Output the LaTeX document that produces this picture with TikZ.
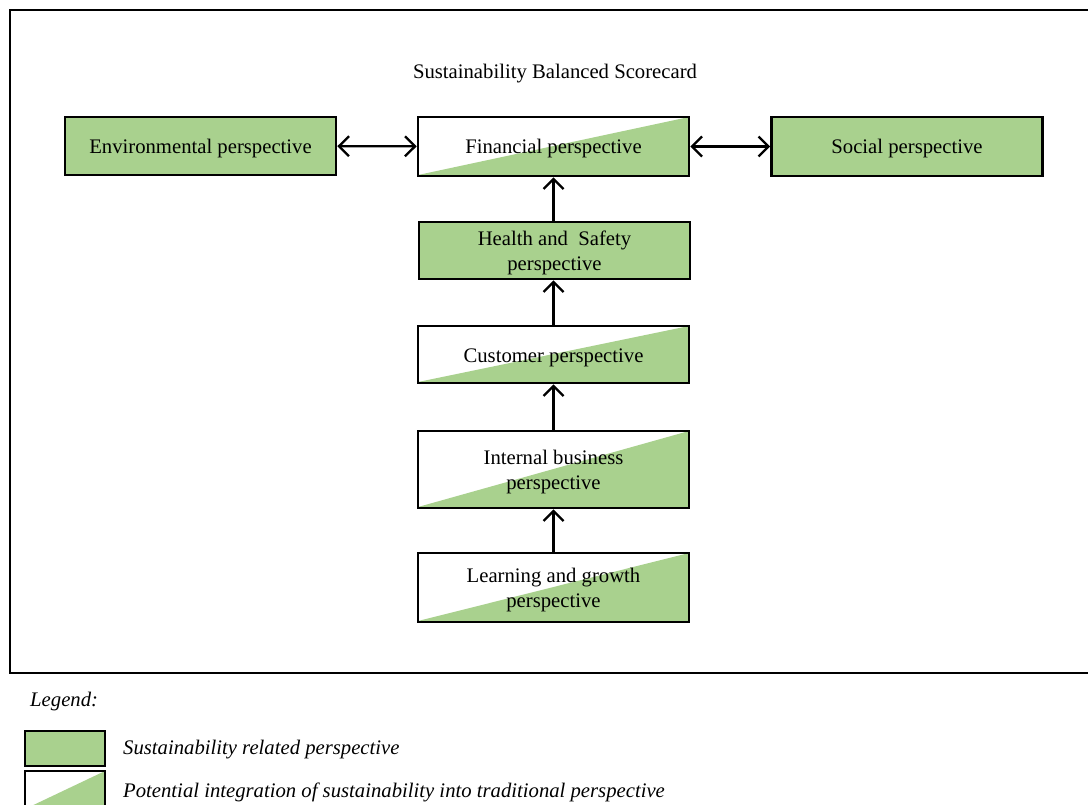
\documentclass[tikz,border=0pt]{standalone}
\usepackage{fontspec}
\setmainfont{Liberation Serif}
\usetikzlibrary{arrows.meta}
\definecolor{leaf}{RGB}{169,209,142}
% centred lines, sitting slightly below the middle of their box
\newcommand\boxtext[1]{\raisebox{0pt}[\dimexpr\height+5pt\relax][\depth]{%
  \renewcommand\arraystretch{1.0}\begin{tabular}{@{}c@{}}#1\end{tabular}}}
\begin{document}
\begin{tikzpicture}[x=1pt,y=-1pt,
  persp/.style={draw=black, line width=2.6pt, minimum width=271pt, inner sep=0pt,
    font=\fontsize{20.7}{25}\selectfont},
  greenbox/.style={persp, fill=leaf},
  halfbox/.style={persp, path picture={
    \fill[leaf] ([yshift=1pt]path picture bounding box.south west)
      -- (path picture bounding box.north east)
      -- (path picture bounding box.south east) -- cycle;}},
  link/.style={line width=2.4pt, -{Straight Barb[length=10pt,width=20pt]}},
  biglink/.style={line width=2.4pt, {Straight Barb[length=10pt,width=20pt]}-{Straight Barb[length=10pt,width=20pt]}},
  legendtext/.style={anchor=west, inner sep=0pt, font=\fontsize{20.7}{24}\selectfont\itshape}
]
\useasboundingbox (0,0) rectangle (1088,805);

% outer frame (open to the right)
\draw[line width=2.6pt] (1100,10) -- (10,10) -- (10,673) -- (1100,673);

\node[font=\fontsize{20.7}{24}\selectfont] (title) at (555,74) {Sustainability Balanced Scorecard};

% perspectives
\node[greenbox, minimum height=58pt] (env)  at (200.5,146)  {\boxtext{Environmental perspective}};
\node[halfbox,  minimum height=59pt] (fin)  at (553.5,146.5) {\boxtext{Financial perspective}};
\node[greenbox, minimum height=59pt] (soc)  at (907,146.5)   {\boxtext{Social perspective}};
\node[greenbox, minimum height=57pt] (hs)   at (554.5,250.5) {\boxtext{Health and\ \ Safety\\perspective}};
\node[halfbox,  minimum height=57pt] (cust) at (553.5,354.5) {\boxtext{Customer perspective}};
\node[halfbox,  minimum height=77pt] (intb) at (553.5,469.5) {\boxtext{Internal business\\perspective}};
\node[halfbox,  minimum height=69pt] (learn) at (553.5,587.5) {\boxtext{Learning and growth\\perspective}};

% cause-and-effect links
\draw[biglink] (env) -- (fin);
\draw[biglink] (fin) -- (soc);
\draw[link] (hs.north -| fin.south) -- (fin.south);
\draw[link] (cust.north) -- (hs.south -| cust.north);
\draw[link] (intb) -- (cust);
\draw[link] (learn) -- (intb);

% legend
\node[legendtext] (legend) at (30,702) {Legend:};
\node[greenbox, minimum width=80pt, minimum height=35pt] (lgreen) at (65,748.5) {};
\node[halfbox, minimum width=80pt, minimum height=39pt] (lhalf) at (65,790.5) {};
\node[legendtext] (ltext1) at (123,750) {Sustainability related perspective};
\node[legendtext] (ltext2) at (123,792) {Potential integration of sustainability into traditional perspective};
\end{tikzpicture}
\end{document}
